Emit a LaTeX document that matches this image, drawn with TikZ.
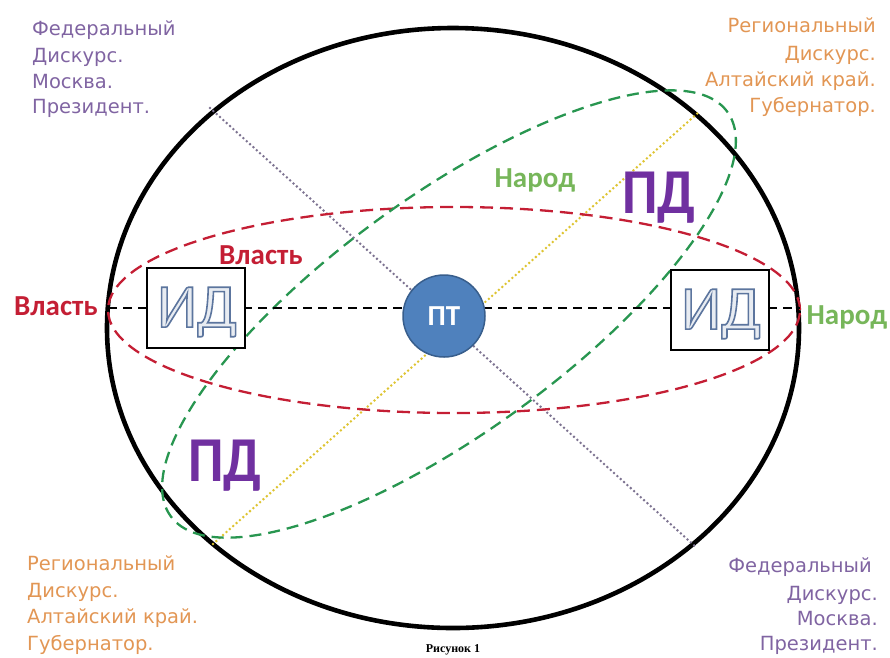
\documentclass[tikz,border=0pt]{standalone}
\usepackage{fontspec}
\setmainfont{DejaVu Sans}
\newfontfamily\labf{Carlito}
\newfontfamily\capf{Liberation Serif}
\definecolor{fedc}{RGB}{128,100,162}
\definecolor{regc}{RGB}{226,150,84}
\definecolor{redc}{RGB}{196,30,52}
\definecolor{grnc}{RGB}{119,182,90}
\definecolor{grnd}{RGB}{40,150,80}
\definecolor{pdc}{RGB}{112,48,160}
\definecolor{ptfill}{RGB}{79,129,189}
\definecolor{ptdraw}{RGB}{56,94,140}
\definecolor{ydot}{RGB}{222,196,50}
\definecolor{gdot}{RGB}{125,115,145}
\definecolor{idfill}{RGB}{232,236,242}
\tikzset{
  cornertxt/.style={inner sep=0pt, font=\fontsize{19.5}{24}\selectfont},
  fedtxt/.style={cornertxt, text=fedc},
  regtxt/.style={cornertxt, text=regc},
  biglab/.style={inner sep=0pt, font=\labf\bfseries\fontsize{29}{31}\selectfont},
  pdlab/.style={inner sep=0pt, text=pdc, font=\labf\bfseries\fontsize{64}{66}\selectfont, xscale=0.88},
  idbox/.style={draw=black, line width=2.5pt, fill=white, minimum width=98pt, minimum height=80pt, inner sep=0pt},
  idtxt/.style={inner sep=0pt, text=idfill, font=\labf\fontsize{62}{64}\selectfont},
  reddash/.style={draw=redc, line width=2.3pt, dash pattern=on 13pt off 7pt},
  grndash/.style={draw=grnd, line width=2.3pt, dash pattern=on 12pt off 7pt},
  dotline/.style={line width=2.8pt, line cap=round, dash pattern=on 0pt off 4.5pt},
}
\begin{document}
\begin{tikzpicture}[x=1pt,y=-1pt]
\useasboundingbox (0,0) rectangle (890,657);
% outer ellipse
\draw[line width=4.6pt] (453,328) ellipse [x radius=346pt, y radius=300pt];
% coordinates
\coordinate (L) at (108,308);
\coordinate (R) at (800,308);
\coordinate (Y1) at (213,544);
\coordinate (Y2) at (699,112);
\coordinate (G1) at (210,108);
\coordinate (G2) at (697,548);
% dotted lines
\draw[gdot, dotline] (G1) -- (G2);
\draw[ydot, dotline] (Y1) -- (Y2);
% red and green ellipses
\draw[reddash] (454,310) ellipse [x radius=346pt, y radius=103pt];
\draw[grndash, rotate around={36:(449,314)}] (449,314) ellipse [x radius=344pt, y radius=118pt];
% black dashed axis
\draw[line width=2.6pt, dash pattern=on 9pt off 6pt] (L) -- (R);
% boxes
\node[idbox] (IDL) at (196,308) {};
\node[idbox] (IDR) at (720,310) {};
\node[idtxt] (IDLt) at (197,312) {\special{pdf:code q 2 Tr 1.6 w 0.36 0.46 0.62 RG}ИД\special{pdf:code Q}};
\node[idtxt] (IDRt) at (721,314) {\special{pdf:code q 2 Tr 1.6 w 0.36 0.46 0.62 RG}ИД\special{pdf:code Q}};
% PT
\node[circle, fill=ptfill, draw=ptdraw, line width=1.5pt, minimum size=82pt, inner sep=0pt,
      text=white, font=\labf\bfseries\fontsize{29}{30}\selectfont] (PT) at (444,316) {ПТ};
% labels
\node[biglab, text=redc, anchor=base] (vl1) at (56,315) {Власть};
\node[biglab, text=grnc, anchor=base] (nr1) at (847,324) {Народ};
\node[biglab, text=redc, anchor=base] (vl2) at (261,264) {Власть};
\node[biglab, text=grnc, anchor=base] (nr2) at (535,187) {Народ};
\node[pdlab, anchor=base] (pd1) at (225,481) {ПД};
\node[pdlab, anchor=base] (pd2) at (659,213) {ПД};
% corner texts
\node[fedtxt, anchor=base west] (tl1) at (32,35) {Федеральный};
\node[fedtxt, anchor=base west] (tl2) at (32,62) {Дискурс.};
\node[fedtxt, anchor=base west] (tl3) at (32,88) {Москва.};
\node[fedtxt, anchor=base west] (tl4) at (32,113) {Президент.};
\node[regtxt, anchor=base east] (tr1) at (876,32) {Региональный};
\node[regtxt, anchor=base east] (tr2) at (876,60) {Дискурс.};
\node[regtxt, anchor=base east] (tr3) at (876,86) {Алтайский край.};
\node[regtxt, anchor=base east] (tr4) at (876,112) {Губернатор.};
\node[regtxt, anchor=base west] (bl1) at (27,570) {Региональный};
\node[regtxt, anchor=base west] (bl2) at (27,597) {Дискурс.};
\node[regtxt, anchor=base west] (bl3) at (27,623) {Алтайский край.};
\node[regtxt, anchor=base west] (bl4) at (27,650) {Губернатор.};
\node[fedtxt, anchor=base east] (br1) at (872,572) {Федеральный};
\node[fedtxt, anchor=base east] (br2) at (878,600) {Дискурс.};
\node[fedtxt, anchor=base east] (br3) at (878,625) {Москва.};
\node[fedtxt, anchor=base east] (br4) at (878,650) {Президент.};
% caption
\node[inner sep=0pt, anchor=base, font=\capf\bfseries\fontsize{12}{13}\selectfont] (cap) at (453,652) {Рисунок 1};
\end{tikzpicture}
\end{document}
